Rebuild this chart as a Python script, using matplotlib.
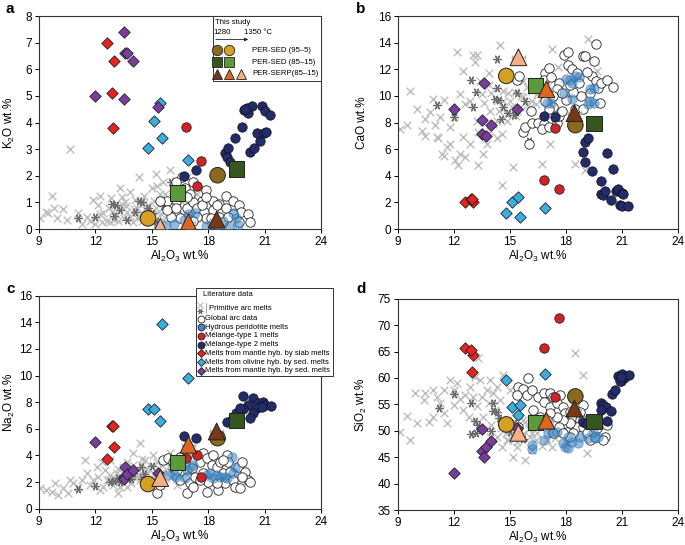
import matplotlib.pyplot as plt
from matplotlib.patches import Rectangle

plt.rcParams['font.family'] = ['Liberation Sans', 'DejaVu Sans']
plt.rcParams['mathtext.default'] = 'regular'

# ---------------- data ----------------
# primitive arc melts (light crosses), per panel
cross_al_a = [10.65, 9.7, 9.4, 9.5, 9.05, 9.95, 10.3, 10.5, 11.1, 11.55, 11.9, 12.25, 12.15, 12.4, 12.6, 12.85,
              13.3, 13.4, 13.65, 13.85, 14.1, 14.3, 14.55, 15.0, 15.25, 15.45, 15.6, 15.95, 16.3, 11.7, 11.3, 12.8,
              13.1, 13.5, 14.0, 14.35, 14.9, 14.2, 14.7, 15.1, 15.8, 16.15, 16.5, 16.85, 17.4, 17.05, 12.25, 12.0,
              12.7, 13.05, 9.8, 13.85, 12.35, 13.2, 13.7, 14.5, 15.3, 15.6, 14.05, 13.4, 15.9, 16.2, 12.9,
              14.4, 14.8, 15.2, 15.5, 15.0, 16.0, 16.4, 14.6, 15.3, 13.0, 13.6, 16.6, 17.0, 15.7, 14.2]
cross_k = [3.0, 1.25, 0.65, 0.6, 0.4, 0.4, 0.75, 0.35, 0.6, 0.45, 1.1, 1.25, 0.9, 0.6, 0.3, 1.15,
           1.55, 1.2, 0.85, 0.5, 1.1, 1.95, 0.95, 1.55, 2.05, 1.3, 1.75, 2.2, 1.8, 0.3, 0.2, 0.25,
           0.55, 0.4, 0.25, 0.45, 0.4, 0.8, 0.7, 1.05, 1.05, 1.3, 1.55, 1.95, 1.3, 1.05, 0.55, 0.2,
           0.8, 0.9, 0.8, 1.4, 0.25, 0.3, 0.65, 0.3, 0.6, 0.35, 0.75, 0.95, 0.6, 0.9, 0.65,
           0.6, 0.9, 0.8, 0.55, 0.25, 0.4, 0.7, 1.25, 1.6, 0.35, 1.0, 1.0, 0.7, 1.3, 0.4]

cross_al_b = [9.12, 9.48, 9.66, 10.0, 10.28, 10.46, 10.46, 10.73, 10.9, 11.0, 11.08, 11.26, 11.44, 11.35, 11.44,
              11.6, 11.8, 11.98, 11.8, 12.06, 12.15, 12.24, 12.33, 12.33, 12.5, 12.5, 12.6, 12.6, 12.87, 13.04,
              13.13, 13.22, 13.31, 13.31, 13.4, 13.49, 13.58, 13.76, 13.85, 13.94, 14.1, 14.3, 14.47, 14.56,
              14.65, 14.83, 14.56, 14.83, 15.0, 15.18, 15.27, 15.54, 15.72, 15.9, 16.16, 16.43, 16.7, 16.96,
              17.23, 17.14, 16.7, 17.58, 18.2, 18.48, 19.0, 19.2, 19.64, 13.94, 12.87, 15.36, 16.07, 15.72,
              16.25, 14.3, 13.22, 11.17, 14.3,
              14.6, 14.9, 15.1, 15.3, 15.6, 15.9, 16.2, 16.4, 16.7, 17.0, 14.0, 14.4, 13.6, 13.9, 16.5]
cross_ca = [7.54, 7.8, 10.4, 9.0, 7.4, 7.0, 8.3, 8.8, 9.8, 7.8, 6.9, 8.4, 9.7, 5.65, 5.5,
            6.15, 7.65, 8.4, 6.4, 5.15, 13.3, 4.8, 5.65, 10.15, 11.9, 6.9, 5.4, 9.4, 9.65, 13.05,
            12.55, 13.05, 7.3, 4.8, 11.15, 10.15, 5.65, 6.4, 11.7, 8.9, 7.9, 9.65, 13.8, 7.15,
            10.4, 8.65, 3.28, 8.15, 9.65, 4.65, 10.3, 9.15, 9.9, 10.65, 9.65, 10.15, 10.9, 11.15,
            13.55, 6.4, 4.9, 12.15, 12.15, 4.9, 4.4, 14.3, 11.9, 7.4, 6.4, 8.9, 9.15, 11.15,
            11.15, 8.15, 8.15, 6.8, 6.8,
            9.6, 10.2, 9.2, 8.5, 10.0, 9.3, 10.4, 9.4, 9.9, 10.4, 10.2, 8.9, 9.5, 10.8, 10.6]

cross_al_c = [9.05, 9.4, 9.67, 10.0, 10.3, 10.56, 10.83, 11.1, 11.27, 11.45, 11.54, 11.71, 11.9, 12.07, 12.16,
              12.25, 12.33, 12.5, 12.6, 12.78, 12.95, 13.13, 13.22, 13.4, 13.49, 13.66, 13.93, 14.02, 14.1,
              14.37, 14.46, 14.64, 14.73, 15.0, 15.08, 15.26, 15.52, 15.8, 15.97, 16.32, 13.3, 10.65, 12.42,
              12.78, 14.37, 13.66, 9.85, 13.8, 14.2, 14.9, 15.6, 12.9,
              13.5, 14.0, 14.3, 14.7, 15.1, 15.4, 15.7, 16.0, 13.9, 14.5, 15.9, 16.4, 12.7, 13.2, 14.9]
cross_na = [1.53, 1.4, 1.28, 1.03, 1.53, 1.15, 1.9, 1.65, 2.15, 3.65, 2.65, 1.78, 2.15, 3.15, 2.4,
            1.4, 3.53, 2.9, 2.15, 2.53, 1.78, 2.65, 1.15, 2.28, 3.15, 3.53, 2.9, 4.16, 2.28,
            4.9, 3.28, 3.65, 2.65, 3.15, 4.03, 3.53, 3.28, 2.65, 4.16, 1.78, 1.65, 2.15, 1.65,
            3.65, 2.15, 1.65, 1.9, 3.0, 2.5, 2.9, 3.6, 2.3,
            2.6, 3.3, 2.5, 3.0, 2.6, 3.0, 3.6, 2.3, 1.9, 3.7, 3.2, 3.3, 2.2, 3.0, 2.0]

cross_al_d = [9.12, 9.66, 9.48, 9.93, 10.37, 10.46, 10.64, 10.9, 11.08, 11.26, 11.44, 11.62, 11.44, 11.8, 11.98,
              11.98, 12.15, 12.33, 12.5, 12.6, 12.78, 12.87, 13.04, 13.13, 13.22, 13.31, 13.4, 13.49, 13.58,
              13.76, 13.85, 13.94, 14.11, 14.2, 14.29, 14.47, 14.56, 14.65, 14.83, 14.91, 15.18, 15.18, 15.36,
              15.8, 16.07, 16.16, 16.43, 16.96, 17.23, 18.03, 18.48, 18.92, 19.1, 10.9, 10.02, 14.29, 14.83,
              13.94, 16.43, 15.72, 15.0, 14.6, 15.4, 16.0,
              14.5, 14.8, 15.0, 15.2, 15.6, 16.0, 16.4, 16.7, 17.0, 15.8, 14.6, 14.0, 16.2, 15.4, 17.4]
cross_si = [49.8, 48.25, 52.8, 57.1, 55.8, 57.1, 51.7, 57.7, 56.45, 55.2, 53.3, 51.4, 57.7, 59.6, 54.9,
            57.7, 59.0, 56.1, 53.9, 56.8, 52.7, 58.3, 56.45, 60.25, 54.6, 63.7, 59.6, 56.45, 52.7,
            57.7, 55.2, 59.6, 57.1, 53.9, 58.3, 55.8, 47.0, 60.55, 52.0, 48.25, 45.1, 50.8, 47.0,
            44.5, 48.9, 46.4, 49.5, 48.25, 47.0, 47.6, 64.65, 60.55, 45.7, 52.7, 51.4, 48.9, 48.25,
            48.9, 51.4, 52.0, 57.7, 50.0, 49.0, 50.5,
            50.5, 49.5, 51.5, 48.5, 49.0, 50.3, 48.2, 47.2, 50.6, 51.6, 52.2, 51.0, 49.6, 47.8, 48.6]

# primitive arc melts (dark asterisks)
ast_al_a = [11.1, 12.0, 12.9, 13.1, 13.3, 13.7, 14.1, 14.3, 14.5, 15.0, 15.6, 16.0, 16.5, 15.2, 14.8, 13.0]
ast_k = [0.4, 0.45, 0.95, 0.9, 0.7, 0.35, 0.65, 1.05, 1.0, 0.6, 0.85, 1.75, 1.4, 0.3, 0.8, 0.5]
ast_al_b = [11.1, 12.0, 12.9, 13.0, 13.2, 14.3, 14.3, 14.2, 14.4, 14.5, 14.9, 15.2, 15.4, 15.8, 16.0, 13.6, 14.6]
ast_ca = [9.3, 8.4, 11.2, 9.2, 10.3, 12.8, 10.6, 9.8, 9.7, 8.3, 8.7, 8.6, 10.2, 9.6, 6.6, 7.0, 9.2]
ast_al_c = [11.1, 12.0, 12.8, 13.0, 13.3, 13.6, 13.9, 14.0, 14.4, 14.5, 15.0, 13.2, 14.6, 16.1]
ast_na = [1.45, 1.7, 2.0, 2.1, 2.0, 2.4, 2.2, 2.7, 3.1, 2.2, 3.2, 2.3, 2.6, 3.0]
ast_al_d = [11.2, 12.0, 12.9, 13.1, 12.9, 13.2, 14.3, 14.1, 14.4, 14.0, 14.6, 15.0, 15.2, 15.7, 14.1, 13.3]
ast_si = [54.3, 57.0, 55.3, 51.8, 49.3, 49.5, 53.5, 55.2, 52.5, 50.0, 51.5, 49.8, 51.4, 48.5, 53.8, 51.0]

# global arc data (white circles)
glob_al_a = [16.6, 16.3, 16.75, 17.2, 17.9, 17.65, 16.3, 16.05, 15.8, 16.3, 16.85, 17.2, 17.4, 17.8, 18.25,
             18.6, 18.95, 19.3, 19.65, 19.75, 20.1, 20.2, 19.3, 18.6, 18.25, 17.9, 17.4, 16.85, 16.5, 16.0,
             15.8, 17.2, 18.8, 19.65, 16.3, 18.45, 18.95, 17.65, 17.05, 17.9, 16.85, 19.05, 18.15, 15.45]
glob_k = [1.95, 1.75, 1.55, 1.75, 1.45, 1.05, 1.05, 0.8, 1.05, 0.55, 0.8, 1.0, 0.8, 0.65, 1.05,
          0.95, 1.25, 1.05, 0.9, 0.65, 0.55, 0.25, 0.55, 0.45, 0.7, 0.4, 0.45, 0.4, 0.4, 0.45,
          0.7, 0.3, 0.25, 0.25, 0.8, 0.9, 0.8, 0.9, 1.3, 1.2, 1.2, 0.45, 0.4, 1.05]
glob_al_b = [16.0, 15.7, 15.8, 16.2, 16.5, 16.8, 16.7, 17.1, 16.1, 17.5, 17.6, 17.8, 17.3, 17.1, 16.9, 15.4,
             15.5, 16.9, 17.1, 16.8, 16.3, 17.2, 17.6, 17.9, 18.1, 18.1, 18.3, 18.6, 18.9, 19.0, 19.6, 19.5,
             19.4, 19.6, 19.7, 19.9, 20.2, 20.5, 19.8, 19.3, 18.8, 18.4, 18.0, 18.5, 18.9, 18.4, 17.5, 17.8,
             16.8, 18.7, 19.1, 18.2, 17.3]
glob_ca = [6.35, 7.3, 7.7, 8.0, 8.0, 7.9, 7.5, 7.7, 8.9, 8.0, 8.5, 8.9, 9.2, 9.0, 9.6, 11.2,
           11.5, 11.7, 12.1, 11.2, 10.9, 11.4, 11.0, 13.1, 13.3, 12.3, 12.0, 11.7, 13.0, 13.0, 13.9, 12.6,
           11.5, 11.1, 10.6, 11.0, 11.2, 10.7, 9.5, 10.2, 10.0, 10.3, 9.7, 9.0, 9.0, 8.3, 10.5, 10.2,
           10.4, 11.0, 11.8, 10.8, 10.0]
glob_al_c = [15.26, 15.44, 15.6, 15.88, 16.14, 16.32, 16.5, 16.85, 16.85, 17.03, 17.12, 17.3, 17.56, 17.74,
             17.92, 17.92, 18.0, 18.18, 18.27, 18.45, 18.54, 18.63, 18.8, 18.9, 19.0, 19.07, 19.15, 19.34,
             19.43, 19.6, 19.7, 19.8, 19.96, 20.13, 20.2, 19.8, 17.56, 17.2, 16.5, 16.85, 18.45, 17.74, 18.8]
glob_na = [1.15, 1.78, 3.65, 3.78, 3.53, 2.9, 2.15, 1.15, 2.4, 1.9, 3.03, 2.4, 3.53, 4.16,
           3.78, 1.28, 2.03, 3.28, 4.03, 3.15, 1.4, 3.53, 2.65, 1.9, 4.03, 3.53, 2.78, 2.15,
           1.65, 3.15, 1.53, 3.53, 2.78, 2.15, 2.03, 2.4, 2.15, 1.65, 3.9, 4.03, 1.9, 2.65, 3.65]
glob_al_d = [15.98, 15.45, 15.72, 15.9, 16.16, 15.36, 16.52, 16.8, 17.14, 17.32, 17.68, 16.8, 17.14, 17.5,
             17.86, 17.94, 18.2, 18.4, 18.75, 18.92, 18.57, 18.2, 17.86, 17.5, 17.14, 17.6, 18.03, 18.4,
             18.2, 18.92, 19.1, 19.3, 19.55, 20.1, 20.0, 20.17, 18.92, 17.86, 16.25, 16.6, 16.43, 16.96,
             17.32, 19.64, 18.75, 15.45]
glob_si = [59.9, 58.35, 58.0, 56.8, 57.7, 56.8, 56.45, 57.1, 57.1, 56.45, 56.8, 55.5, 54.55, 55.2,
           54.55, 53.3, 53.6, 52.7, 52.0, 54.9, 50.8, 51.4, 52.0, 52.7, 53.3, 50.8, 49.8, 49.5,
           48.9, 50.8, 49.5, 48.25, 48.9, 48.9, 48.25, 51.1, 52.0, 49.5, 53.9, 52.7, 52.0, 52.0,
           49.5, 50.5, 53.6, 50.8]

# hydrous peridotite melts (blue)
hyd_al_a = [15.4, 15.75, 16.2, 16.7, 17.0, 17.3, 17.9, 18.2, 18.5, 18.8, 19.1, 19.3, 19.5, 19.6, 16.9]
hyd_k = [0.12, 0.15, 0.2, 0.35, 0.1, 0.6, 0.1, 0.2, 0.12, 0.3, 0.12, 0.6, 0.4, 0.15, 0.55]
hyd_al_b = [18.0, 18.2, 18.3, 18.5, 17.9, 18.3, 17.2, 17.0, 19.3, 19.5, 19.2, 19.5, 19.3, 18.7]
hyd_ca = [11.3, 11.2, 11.0, 11.5, 10.2, 9.8, 9.5, 9.5, 10.5, 10.6, 9.4, 9.5, 9.6, 11.4]
hyd_al_c = [16.23, 16.3, 16.85, 17.03, 17.2, 16.77, 17.92, 18.1, 18.45, 18.63, 18.9, 19.25, 19.43, 19.34,
            19.0, 18.27, 15.8]
hyd_na = [2.53, 2.4, 2.9, 3.15, 3.28, 2.28, 2.53, 2.65, 2.53, 2.4, 2.4, 3.9, 3.15, 2.65, 2.28, 2.28, 2.53]
hyd_al_d = [16.16, 16.2, 16.8, 17.05, 17.23, 17.86, 17.94, 18.1, 18.3, 18.65, 18.75, 19.2, 19.55, 19.73,
            19.45, 18.1, 17.5]
hyd_si = [47.3, 46.6, 48.3, 49.5, 49.8, 47.6, 47.0, 46.7, 47.9, 47.6, 48.9, 48.6, 48.6, 48.9, 49.8, 48.9, 49.8]

# mélange-type 2 melts (navy)
mel2_al_a = [16.73, 17.33, 18.9, 19.0, 19.05, 19.15, 19.4, 19.8, 19.9, 20.05, 20.1, 20.35, 20.85, 21.0, 21.3,
             20.2, 20.45, 20.75, 20.6, 20.95, 21.07, 19.95]
mel2_k = [2.0, 2.2, 2.85, 2.7, 3.05, 2.5, 3.42, 3.82, 4.47, 4.55, 4.35, 4.62, 4.62, 4.45, 4.27,
          2.91, 3.04, 3.3, 3.61, 3.61, 3.64, 4.5]
mel2_al_b = [16.8, 17.4, 19.0, 19.2, 18.9, 19.0, 19.4, 19.9, 20.2, 20.5, 19.9, 20.0, 20.1, 20.4, 20.7, 20.8,
             21.0, 20.9, 21.0, 21.3, 21.05]
mel2_ca = [8.5, 8.4, 6.5, 6.8, 5.8, 5.05, 4.35, 3.6, 5.7, 4.5, 2.6, 2.55, 2.85, 2.2, 2.85, 3.0,
           2.7, 1.8, 1.75, 1.7, 2.65]
mel2_al_c = [16.73, 17.35, 19.0, 19.87, 20.37, 20.1, 19.83, 20.67, 20.93, 21.02, 21.34, 20.58, 20.4, 20.22,
             20.84, 19.5, 19.7, 19.34]
mel2_na = [5.46, 5.33, 6.53, 8.46, 8.29, 7.79, 7.46, 7.91, 8.04, 7.79, 7.71, 7.59, 7.21, 6.79,
           7.66, 7.16, 7.54, 6.79]
mel2_al_d = [18.9, 19.1, 19.9, 20.0, 20.15, 19.85, 20.4, 20.2, 20.45, 20.65, 20.8, 21.0, 20.95, 21.1, 21.35,
             20.9, 20.95]
mel2_si = [51.6, 51.3, 55.2, 54.8, 54.5, 54.0, 53.7, 51.8, 57.0, 57.8, 60.4, 60.7, 59.5, 59.9, 60.5, 59.4, 60.2]

# mélange-type 1 melts (red circles)
mel1_al = [16.8, 17.6, 17.4]
mel1_k = [3.85, 2.55, 1.6]
mel1_ca = [3.65, 3.0, 7.6]
mel1_na = [3.8, 2.4, 4.0]
mel1_si = [65.7, 71.3, 56.3]

# melts from mantle hybridized by slab melts (red diamonds)
slab_al = [12.6, 13.0, 12.9, 12.95]
slab_k = [7.0, 6.3, 5.1, 3.8]
slab_ca = [2.0, 2.0, 2.25, 2.25]
slab_na = [3.7, 4.6, 6.2, 6.25]
slab_si = [65.6, 64.4, 65.3, 61.1]

# melts from olivine hybridized by sediment melts (light blue diamonds)
olv_al = [14.8, 15.1, 15.45, 15.55, 16.9]
olv_k = [3.05, 4.05, 4.75, 3.4, 2.6]
olv_ca = [1.2, 2.0, 2.4, 0.9, 1.55]
olv_na = [7.5, 7.5, 6.6, 13.9, 9.8]
olv_si = [59.7, 54.5, 52.9, 54.8, 60.7]

# melts from mantle hybridized by sediment melts (purple diamonds)
sed_al = [12.0, 13.5, 13.5, 13.6, 13.7, 14.0, 15.35]
sed_k = [5.0, 7.4, 4.9, 6.6, 6.6, 6.3, 4.6]
sed_ca = [9.0, 8.2, 7.1, 11.0, 6.95, 7.8, 9.0]
sed_na = [5.0, 2.4, 2.2, 3.1, 2.6, 2.9, 2.7]
sed_si = [42.0, 46.2, 50.4, 45.0, 47.0, 48.0, 50.5]

# this study: 1280 -> 1350 °C
per95_al = [18.5, 14.8]
per95_k = [2.02, 0.4]
per95_ca = [7.8, 11.5]
per95_na = [5.3, 1.85]
per95_si = [56.5, 51.2]
per85_al = [19.5, 16.35]
per85_k = [2.25, 1.35]
per85_ca = [7.9, 10.8]
per85_na = [6.6, 3.5]
per85_si = [51.8, 51.5]
serp_al = [18.45, 16.95, 15.45]
serp_k = [0.35, 0.25, 0.08]
serp_ca = [8.7, 10.5, 12.9]
serp_na = [5.8, 4.8, 2.3]
serp_si = [54.2, 51.9, 49.6]

c_light, c_dark = '#bdbdbd', '#6b6b6b'
c_hyd, c_mel1, c_mel2 = '#3b86c6', '#d42027', '#222c6b'
c_slab, c_olv, c_sed = '#e6231f', '#3aaee0', '#7a3d9e'
c_per95 = ['#8b6a1e', '#d5a125']
c_per85 = ['#35561f', '#5b9a3a']
c_serp = ['#7b3816', '#e0651f', '#f6b088']

fig = plt.figure(figsize=(6.85, 5.45), dpi=100)
ax_a = fig.add_axes([0.0569, 0.5798, 0.4117, 0.3908])
ax_b = fig.add_axes([0.5810, 0.5798, 0.4088, 0.3908])
ax_c = fig.add_axes([0.0569, 0.0666, 0.4117, 0.3908])
ax_d = fig.add_axes([0.5810, 0.0642, 0.4088, 0.3877])

panels = [
    (ax_a, 'K$_2$O wt.%', (0, 8), range(0, 9, 1), -0.103,
     cross_al_a, cross_k, ast_al_a, ast_k, glob_al_a, glob_k, hyd_al_a, hyd_k, mel2_al_a, mel2_k,
     mel1_k, slab_k, olv_k, sed_k, per95_k, per85_k, serp_k),
    (ax_b, 'CaO wt.%', (0, 16), range(0, 17, 2), -0.129,
     cross_al_b, cross_ca, ast_al_b, ast_ca, glob_al_b, glob_ca, hyd_al_b, hyd_ca, mel2_al_b, mel2_ca,
     mel1_ca, slab_ca, olv_ca, sed_ca, per95_ca, per85_ca, serp_ca),
    (ax_c, 'Na$_2$O wt.%', (0, 16), range(0, 17, 2), -0.103,
     cross_al_c, cross_na, ast_al_c, ast_na, glob_al_c, glob_na, hyd_al_c, hyd_na, mel2_al_c, mel2_na,
     mel1_na, slab_na, olv_na, sed_na, per95_na, per85_na, serp_na),
    (ax_d, 'SiO$_2$ wt.%', (35, 75), range(35, 76, 5), -0.129,
     cross_al_d, cross_si, ast_al_d, ast_si, glob_al_d, glob_si, hyd_al_d, hyd_si, mel2_al_d, mel2_si,
     mel1_si, slab_si, olv_si, sed_si, per95_si, per85_si, serp_si),
]

for (ax, ylab, ylim, yt, ylx, cx, cy, sx, sy, gx, gy, hx, hy, nx, ny,
     m1y, sly, oly, sey, p95y, p85y, sry) in panels:
    ax.scatter(cx, cy, s=30, marker='x', color=c_light, linewidths=1.0, zorder=1)
    ax.scatter(sx, sy, s=30, marker=(6, 2, 90), color=c_dark, linewidths=0.9, zorder=2)
    ax.scatter(gx, gy, s=46, marker='o', facecolor='white', edgecolor='#222222', linewidths=0.6, zorder=3)
    ax.scatter(hx, hy, s=46, marker='o', facecolor=c_hyd, edgecolor='#2a5f95', linewidths=0.5,
               alpha=0.55, zorder=4)
    ax.scatter(nx, ny, s=46, marker='o', facecolor=c_mel2, edgecolor='#111111', linewidths=0.5, zorder=5)
    ax.scatter(mel1_al, m1y, s=46, marker='o', facecolor=c_mel1, edgecolor='#222222', linewidths=0.6, zorder=5)
    ax.scatter(slab_al, sly, s=34, marker='D', facecolor=c_slab, edgecolor='#222222', linewidths=0.6, zorder=6)
    ax.scatter(olv_al, oly, s=34, marker='D', facecolor=c_olv, edgecolor='#222222', linewidths=0.6, zorder=6)
    ax.scatter(sed_al, sey, s=34, marker='D', facecolor=c_sed, edgecolor='#222222', linewidths=0.6, zorder=6)
    # this study with error bars
    for xs, ys, cols, mk, sz in [(per95_al, p95y, c_per95, 'o', 125), (per85_al, p85y, c_per85, 's', 120),
                                 (serp_al, sry, c_serp, '^', 145)]:
        ax.errorbar(xs, ys, xerr=0.35, fmt='none', ecolor='#b0b0b0', elinewidth=0.8, capsize=1.5, zorder=7)
        ax.scatter(xs, ys, s=sz, marker=mk, c=cols, edgecolor='#222222', linewidths=0.7, zorder=8)
    ax.set_xlim(9, 24)
    ax.set_ylim(*ylim)
    ax.set_xticks(range(9, 25, 3))
    ax.set_yticks(list(yt))
    ax.tick_params(labelsize=8.5, length=3, width=0.7, direction='out', pad=2)
    for sp in ax.spines.values():
        sp.set_linewidth(0.8)
        sp.set_color('#333333')
    ax.set_xlabel('Al$_2$O$_3$ wt.%', fontsize=8.5, va='center')
    ax.xaxis.set_label_coords(0.5, -0.128)
    ax.set_ylabel(ylab, fontsize=8.5, va='center')
    ax.yaxis.set_label_coords(ylx, 0.5)

# ---------- overlay in pixel coords: panel letters and legends ----------
ov = fig.add_axes([0, 0, 1, 1])
ov.set_xlim(0, 685)
ov.set_ylim(545, 0)
ov.axis('off')

for lab, x, y in [('a', 6, 9), ('b', 356, 9), ('c', 6, 289), ('d', 356, 289)]:
    ov.text(x, y, lab, fontsize=11, fontweight='bold', ha='left', va='center')

# legend a: this study
ov.add_patch(Rectangle((212.7, 15.5), 108, 65.5, facecolor='white', edgecolor='#333333', linewidth=0.7))
ov.text(215, 23, 'This study', fontsize=5.6, ha='left', va='center')
ov.text(213.5, 33, '1280', fontsize=5.6, ha='left', va='center')
ov.text(244, 33, '1350 °C', fontsize=5.6, ha='left', va='center')
ov.annotate('', xy=(251, 39.5), xytext=(213, 39.5),
            arrowprops=dict(arrowstyle='-|>', color='#222222', lw=0.6, mutation_scale=5))
leg_rows = [(50, c_per95, 'o', 'PER-SED (95–5)'), (62, c_per85, 's', 'PER-SED (85–15)'),
            (73.5, c_serp, '^', 'PER-SERP(85–15)')]
for y, cols, mk, lab in leg_rows:
    for i, col in enumerate(cols):
        ov.plot(217 + 12 * i, y, marker=mk, ms=7.5, color=col, mec='#222222', mew=0.6)
    ov.text(252, y, lab, fontsize=5.6, ha='left', va='center')

# legend c: literature data
ov.add_patch(Rectangle((196, 288), 137, 88, facecolor='white', edgecolor='#333333', linewidth=0.7))
ov.text(203, 295, 'Literature data', fontsize=5.5, ha='left', va='center')
ov.plot(200.5, 304.5, marker='x', ms=4, color=c_light, mew=0.8)
ov.plot(200.5, 310.5, marker=(6, 2, 90), ms=4, color=c_dark, mew=0.8)
ov.plot([206.5, 206.5], [303, 313], color='#999999', lw=0.6)
ov.text(209, 308.5, 'Primitive arc melts', fontsize=5.5, ha='left', va='center')
lit_rows = [('o', 'white', 'Global arc data'), ('o', c_hyd, 'Hydrous peridotite melts'),
            ('o', c_mel1, 'Mélange-type 1 melts'), ('o', c_mel2, 'Mélange-type 2 melts'),
            ('D', c_slab, 'Melts from mantle hyb. by slab melts'),
            ('D', c_olv, 'Melts from olivine hyb. by sed. melts'),
            ('D', c_sed, 'Melts from mantle hyb. by sed. melts')]
for i, (mk, col, lab) in enumerate(lit_rows):
    y = 318.5 + 8.7 * i
    ov.plot(201, y, marker=mk, ms=5 if mk == 'o' else 4, color=col, mec='#222222', mew=0.6)
    ov.text(205, y, lab, fontsize=5.5, ha='left', va='center')

fig.savefig('out.png', dpi=100, facecolor='white')
